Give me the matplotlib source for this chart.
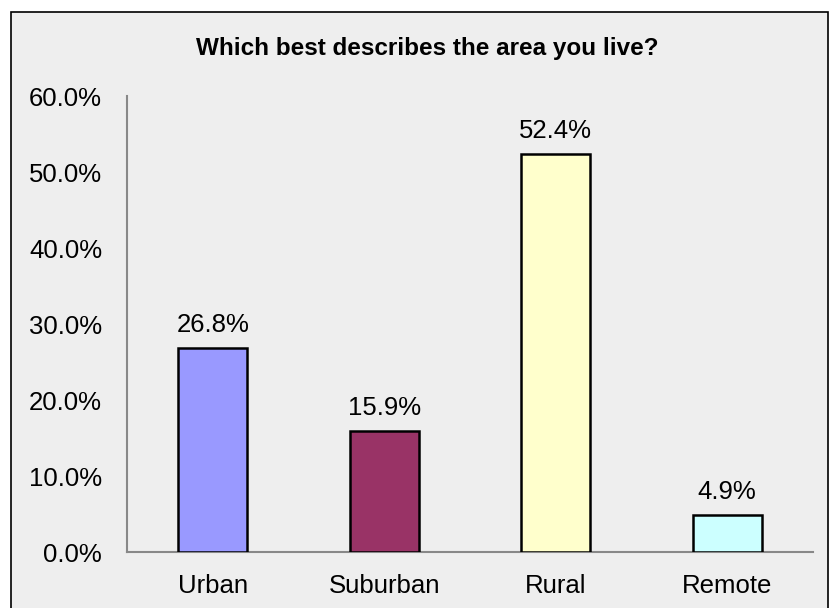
import matplotlib
matplotlib.use("Agg")
import matplotlib.pyplot as plt
from matplotlib.patches import Rectangle
from matplotlib.ticker import FuncFormatter

categories = ["Urban", "Suburban", "Rural", "Remote"]
values = [26.8, 15.9, 52.4, 4.9]
colors = ["#9999ff", "#993366", "#ffffcc", "#ccffff"]
yticks = [0, 10, 20, 30, 40, 50, 60]

plt.rcParams['font.family'] = ['Liberation Sans', 'DejaVu Sans']
bg = "#eeeeee"
fig = plt.figure(figsize=(8.32, 6.08), dpi=100, facecolor="white")
fig.patches.append(Rectangle((11/832, -0.1), (828-11)/832, 1 - 12/608 + 0.1,
                             transform=fig.transFigure, facecolor=bg,
                             edgecolor="black", linewidth=1.2, zorder=-1))
ax = fig.add_axes([127/832, 1-552/608, (813-127)/832, (552-96)/608])
ax.set_facecolor(bg)
x = range(len(categories))
bars = ax.bar(x, values, width=0.40, color=colors, edgecolor="black", linewidth=1.8, zorder=3)
for xi, v in zip(x, values):
    ax.annotate(f"{v:.1f}%", (xi, v), xytext=(0, 8), textcoords="offset points",
                ha="center", va="bottom", fontsize=18.5)
ax.set_ylim(0, 60)
ax.set_xlim(-0.5, len(categories) - 0.5)
ax.set_yticks(yticks)
ax.yaxis.set_major_formatter(FuncFormatter(lambda v, p: f"{v:.1f}%"))
ax.set_xticks(list(x))
ax.set_xticklabels(categories)
ax.tick_params(axis="both", length=0, labelsize=18.5)
ax.tick_params(axis="y", pad=18)
ax.tick_params(axis="x", pad=16)
for s in ["top", "right"]:
    ax.spines[s].set_visible(False)
for s in ["left", "bottom"]:
    ax.spines[s].set_color("#888888")
    ax.spines[s].set_linewidth(1.5)
fig.text(427/832, 1-48/608, "Which best describes the area you live?", ha="center", va="center",
         fontsize=17.5, fontweight="bold")
fig.savefig("out.png", dpi=100, facecolor="white")
